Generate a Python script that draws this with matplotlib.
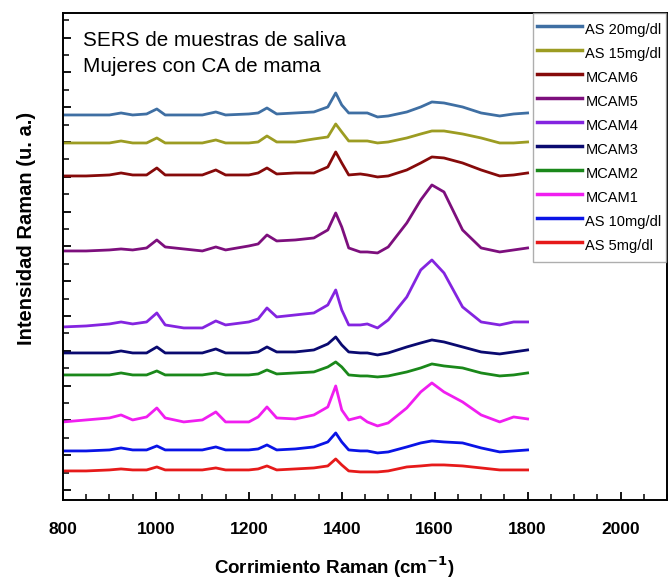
# -*- coding: utf-8 -*-

import matplotlib.pyplot as plt
import matplotlib as mpl
from matplotlib.ticker import MultipleLocator
import numpy as np

mpl.rcParams['font.family'] = ['Liberation Sans', 'DejaVu Sans']

# Raman shift (cm-1) shared by all spectra
shift = [800, 850, 900, 925, 950, 980, 1002, 1020, 1060, 1100, 1129, 1150,
         1200, 1220, 1239, 1260, 1300, 1340, 1370, 1387, 1400, 1415, 1440,
         1455, 1477, 1500, 1540, 1570, 1594, 1620, 1660, 1700, 1740, 1770, 1800]

# stacked intensities (a.u.), top to bottom
as20 = [385, 385, 385, 387, 385, 386, 391, 385, 385, 385, 388, 385, 386, 387,
        392, 386, 387, 388, 393, 407, 395, 387, 387, 387, 383, 384, 388, 393,
        398, 397, 393, 387, 384, 386, 387]
as15 = [357, 357, 357, 359, 357, 357, 362, 357, 357, 357, 360, 357, 357, 358,
        364, 358, 358, 361, 363, 376, 368, 359, 359, 359, 357, 358, 362, 366,
        369, 369, 366, 362, 357, 357, 358]
mcam6 = [324, 324, 325, 327, 325, 325, 332, 325, 325, 325, 330, 325, 325, 327,
         332, 326, 327, 327, 333, 348, 337, 325, 326, 325, 323, 324, 330, 337,
         343, 342, 337, 330, 324, 325, 327]
mcam5 = [249, 249, 250, 251, 250, 252, 260, 253, 251, 249, 253, 250, 254, 256,
         265, 259, 260, 262, 270, 287, 273, 252, 248, 248, 247, 253, 277, 300,
         315, 308, 270, 252, 248, 250, 252]
mcam4 = [173, 174, 176, 178, 176, 178, 187, 175, 172, 172, 179, 175, 178, 181,
         192, 183, 185, 187, 195, 210, 190, 175, 175, 176, 172, 180, 203, 230,
         240, 227, 193, 178, 175, 178, 178]
mcam3 = [147, 147, 147, 149, 147, 147, 153, 147, 147, 147, 151, 147, 147, 148,
         153, 148, 148, 150, 156, 163, 155, 148, 147, 147, 145, 147, 153, 157,
         160, 158, 153, 148, 146, 148, 150]
mcam2 = [125, 125, 125, 127, 125, 125, 129, 125, 125, 125, 127, 125, 125, 126,
         130, 126, 127, 128, 133, 138, 133, 125, 124, 124, 123, 124, 128, 132,
         136, 134, 132, 127, 124, 125, 127]
mcam1 = [78, 80, 82, 85, 80, 83, 92, 82, 78, 80, 88, 78, 78, 83,
         93, 82, 81, 85, 93, 114, 90, 80, 83, 78, 74, 77, 92, 108,
         117, 108, 98, 85, 78, 83, 81]
as10 = [49, 49, 50, 52, 50, 50, 54, 50, 50, 50, 53, 50, 50, 51,
        55, 50, 51, 53, 58, 67, 58, 50, 49, 49, 47, 48, 53, 57,
        59, 58, 57, 52, 48, 49, 50]
as5 = [29, 29, 30, 31, 30, 30, 33, 30, 30, 30, 32, 30, 30, 31,
       34, 30, 31, 32, 34, 41, 35, 29, 28, 28, 28, 29, 33, 34,
       35, 35, 34, 32, 30, 30, 30]

names = ["AS 20mg/dl", "AS 15mg/dl", "MCAM6", "MCAM5", "MCAM4", "MCAM3",
         "MCAM2", "MCAM1", "AS 10mg/dl", "AS 5mg/dl"]
spectra = [as20, as15, mcam6, mcam5, mcam4, mcam3, mcam2, mcam1, as10, as5]
colors = ["#3f6fa3", "#9c9c22", "#860a0a", "#7d0f7d", "#8424e0", "#0a0a70",
          "#1a881a", "#f01ef0", "#0a14e6", "#e61a1a"]

fig = plt.figure(figsize=(6.70, 5.82), dpi=100)
ax = fig.add_axes([0.094, 0.141, 0.9015, 0.8367])

for y, name, c in zip(spectra, names, colors):
    ax.plot(shift, y, color=c, lw=2.0, label=name)

ax.set_xlim(800, 2100)
ax.set_ylim(0, 487)

# ticks pointing inwards, y without labels
ax.xaxis.set_major_locator(MultipleLocator(200))
ax.xaxis.set_minor_locator(MultipleLocator(50))
ax.yaxis.set_major_locator(MultipleLocator(34.8, offset=10))
ax.yaxis.set_minor_locator(MultipleLocator(17.4, offset=10))
ax.tick_params(axis='both', which='major', direction='in', length=6, width=1.3)
ax.tick_params(axis='both', which='minor', direction='in', length=4, width=1.1)
ax.tick_params(axis='x', which='major', pad=16, labelsize=12.5)
ax.tick_params(axis='y', which='both', left=True, right=False, labelleft=False)
ax.tick_params(axis='x', which='both', top=False)
for lbl in ax.get_xticklabels():
    lbl.set_fontweight('bold')
for s in ax.spines.values():
    s.set_linewidth(1.4)

ax.set_xlabel("Corrimiento Raman (cm$^{\\mathbf{-1}}$)", fontsize=13.5,
              fontweight='bold')
ax.xaxis.set_label_coords(0.45, -0.112)
ax.set_ylabel("Intensidad Raman (u. a.)", fontsize=14.5, fontweight='bold')
ax.yaxis.set_label_coords(-0.045, 0.558)

ax.text(0.033, 0.963, "SERS de muestras de saliva\nMujeres con CA de mama",
        transform=ax.transAxes, fontsize=14.9, va='top', ha='left',
        linespacing=1.45)

leg = ax.legend(loc='upper left', bbox_to_anchor=(0.778, 1.0), fontsize=10.5,
                frameon=True, fancybox=False, borderpad=0.3,
                handlelength=3.1, handleheight=2.16, handletextpad=0.2,
                labelspacing=0.0, borderaxespad=0)
leg.get_frame().set_edgecolor('#9a9a9a')
leg.get_frame().set_linewidth(1.0)
for line in leg.get_lines():
    line.set_linewidth(2.5)

fig.savefig("out.png", dpi=100)
